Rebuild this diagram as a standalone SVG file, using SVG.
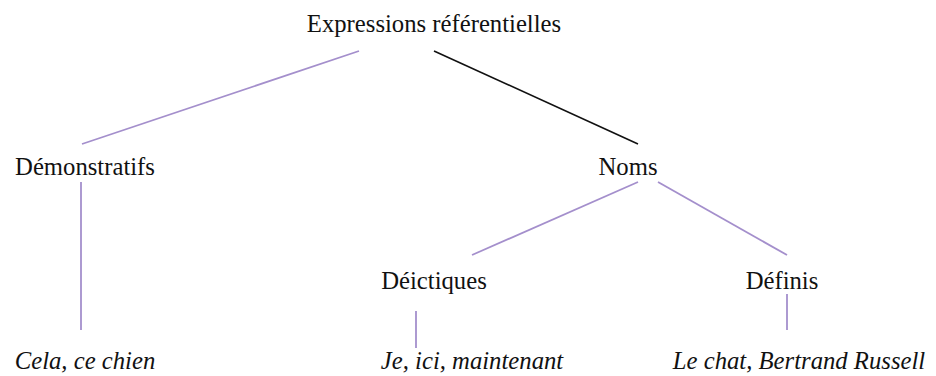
<svg xmlns="http://www.w3.org/2000/svg" width="936" height="376" viewBox="0 0 936 376">
  <style>
    .lbl { font-family: "Liberation Serif", "Times New Roman", serif; font-size: 24.7px; fill: #111; text-anchor: middle; }
    .ex { font-style: italic; }
    .edge { stroke: #a48fcc; stroke-width: 1.8; fill: none; }
    .edge.dark { stroke: #111; stroke-width: 1.6; }
  </style>
  <rect width="936" height="376" fill="#fff"/>
  <g id="connectors">
    <line class="edge" x1="359" y1="51" x2="82" y2="144"/>
    <line class="edge dark" x1="434" y1="51" x2="638" y2="144"/>
    <line class="edge" x1="81" y1="182" x2="81" y2="330"/>
    <line class="edge" x1="638" y1="182" x2="472" y2="255"/>
    <line class="edge" x1="658" y1="182" x2="787" y2="255"/>
    <line class="edge" x1="416" y1="311" x2="416" y2="348"/>
    <line class="edge" x1="787" y1="294" x2="787" y2="330"/>
  </g>
  <g id="root"><text class="lbl" x="434" y="32">Expressions référentielles</text></g>
  <g id="demonstratifs"><text class="lbl" x="85" y="175">Démonstratifs</text></g>
  <g id="noms"><text class="lbl" x="628" y="175">Noms</text></g>
  <g id="deictiques"><text class="lbl" x="434" y="289">Déictiques</text></g>
  <g id="definis"><text class="lbl" x="782" y="289">Définis</text></g>
  <g id="ex-demonstratifs"><text class="lbl ex" x="85" y="369">Cela, ce chien</text></g>
  <g id="ex-deictiques"><text class="lbl ex" x="472" y="369">Je, ici, maintenant</text></g>
  <g id="ex-definis"><text class="lbl ex" x="799" y="369">Le chat, Bertrand Russell</text></g>
</svg>
